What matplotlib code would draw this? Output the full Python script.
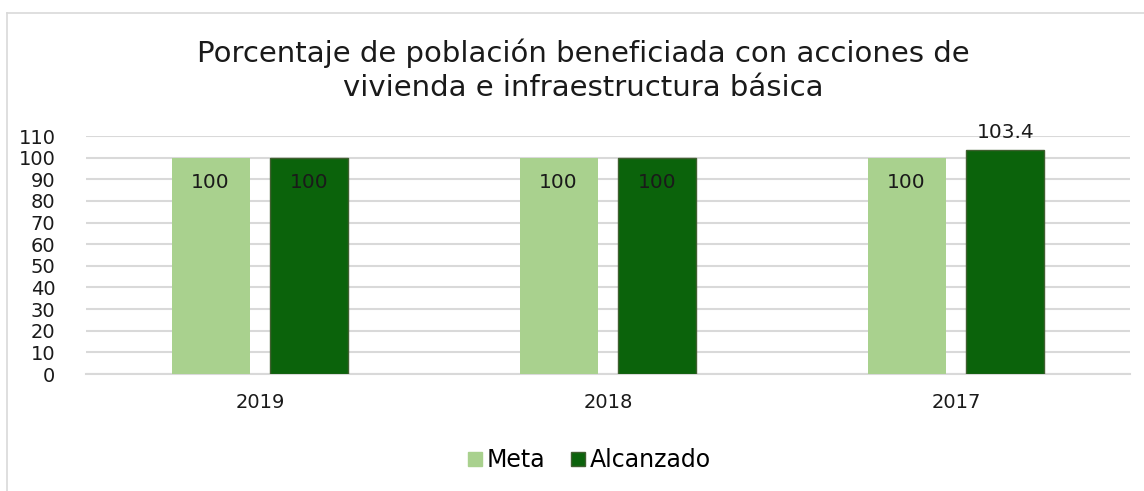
import numpy as np
import matplotlib.pyplot as plt
from matplotlib.lines import Line2D

years = ["2019", "2018", "2017"]
meta = [100, 100, 100]
alcanzado = [100, 100, 103.4]

plt.rcParams['font.family'] = ['DejaVu Sans']

W, H = 1144, 491
fig = plt.figure(figsize=(W / 100, H / 100), dpi=100)
ax = fig.add_axes([86 / W, 1 - 374 / H, 1044 / W, (374 - 136) / H])

x = np.arange(len(years))
bw = 0.224
off = 0.142
b1 = ax.bar(x - off, meta, bw, color="#A9D18E", label="Meta", zorder=3)
b2 = ax.bar(x + off, alcanzado, bw, color="#0B630B", edgecolor="#3F5F2F",
            linewidth=1, label="Alcanzado", zorder=3)

for rect, v in zip(b1, meta):
    ax.text(rect.get_x() + rect.get_width() / 2, v - 7, f"{v:g}",
            ha="center", va="top", fontsize=14.5, color="#1a1a1a", zorder=4)
for rect, v in zip(b2, alcanzado):
    if v > 101:
        ax.text(rect.get_x() + rect.get_width() / 2, v + 4, f"{v:g}",
                ha="center", va="bottom", fontsize=14.5, color="#1a1a1a", zorder=4)
    else:
        ax.text(rect.get_x() + rect.get_width() / 2, v - 7, f"{v:g}",
                ha="center", va="top", fontsize=14.5, color="#1a1a1a", zorder=4)

ax.set_xlim(-0.5, 2.5)
ax.set_ylim(0, 110)
ax.set_yticks(range(0, 111, 10))
ax.set_xticks(x)
ax.set_xticklabels(years)
ax.grid(axis="y", color="#d9d9d9", linewidth=1.5, zorder=0)
for s in ["top", "right", "left"]:
    ax.spines[s].set_visible(False)
ax.spines["bottom"].set_color("#d9d9d9")
ax.spines["bottom"].set_linewidth(1.5)
ax.tick_params(axis="both", length=0, labelsize=14, colors="#1a1a1a")
ax.tick_params(axis="y", pad=22)
ax.tick_params(axis="x", pad=14)

fig.text(583 / W, 1 - 70 / H,
         "Porcentaje de población beneficiada con acciones de\nvivienda e infraestructura básica",
         ha="center", va="center", fontsize=21, color="#1a1a1a", linespacing=1.25)

handles = [Line2D([], [], marker="s", linestyle="", markersize=10,
                  markerfacecolor="#A9D18E", markeredgecolor="#A9D18E"),
           Line2D([], [], marker="s", linestyle="", markersize=10,
                  markerfacecolor="#0B630B", markeredgecolor="#3F5F2F")]
fig.legend(handles, ["Meta", "Alcanzado"], loc="center", ncol=2,
           bbox_to_anchor=(587 / W, 1 - 460 / H), frameon=False,
           fontsize=17, handletextpad=0.0, columnspacing=0.9,
           handlelength=1.0)

# chart border (cropped at right and bottom)
fig.add_artist(Line2D([6.5 / W, 6.5 / W], [0, 1 - 12.5 / H],
                      transform=fig.transFigure, color="#d9d9d9", linewidth=1.2))
fig.add_artist(Line2D([6.5 / W, 1], [1 - 12.5 / H, 1 - 12.5 / H],
                      transform=fig.transFigure, color="#d9d9d9", linewidth=1.2))

fig.savefig("out.png", dpi=100)
